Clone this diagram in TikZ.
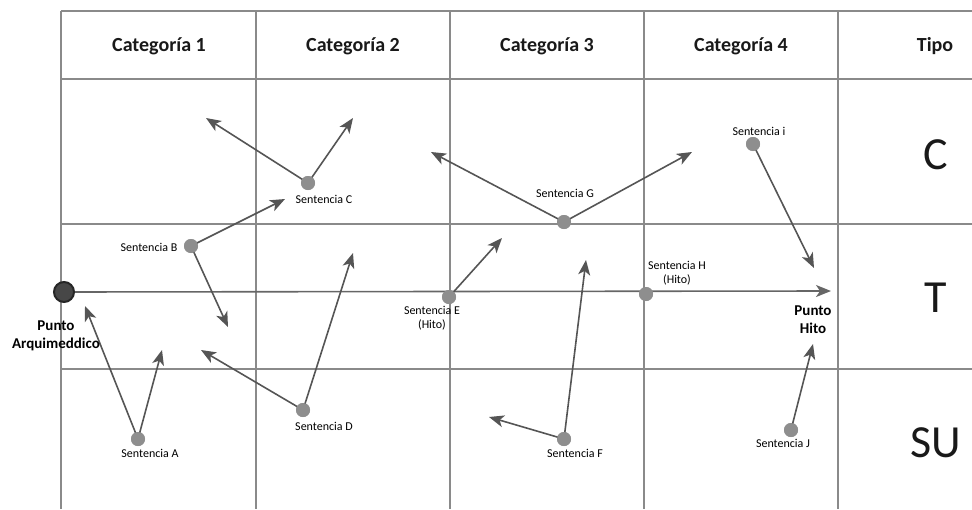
\documentclass[tikz,border=0pt]{standalone}
\usepackage{fontspec}
\setmainfont{Carlito}
\usetikzlibrary{arrows.meta}
\definecolor{gridc}{HTML}{8A8A8A}
\definecolor{arrc}{HTML}{555555}
\definecolor{dotc}{HTML}{8E8E8E}
\tikzset{
  gridline/.style={draw=gridc, line width=1.2pt},
  dotn/.style={circle, fill=dotc, inner sep=0pt, minimum size=14pt},
  arr/.style={draw=arrc, line width=1.6pt, -{Stealth[length=15pt,width=12pt,inset=4pt]}},
  lbl/.style={font=\fontsize{12}{14}\selectfont, text=black, align=center, inner sep=0pt},
  hdr/.style={font=\fontsize{20}{22}\selectfont\bfseries, text=black!90, inner sep=0pt},
  big/.style={font=\fontsize{46}{50}\selectfont, text=black!90, inner sep=0pt},
  bold/.style={font=\fontsize{15}{18}\selectfont\bfseries, text=black, align=center, inner sep=0pt}
}
\begin{document}
\begin{tikzpicture}[x=1pt,y=-1pt]
\useasboundingbox (0,0) rectangle (972,509);
% grid
\draw[gridline] (61,11) -- (972,11);
\draw[gridline] (61,79) -- (972,79);
\draw[gridline] (61,224) -- (972,224);
\draw[gridline] (61,369) -- (972,369);
\foreach \x in {61,256,450,644,838} \draw[gridline] (\x,11) -- (\x,509);
% headers
\node[hdr] (h1) at (159,46) {Categoría 1};
\node[hdr] (h2) at (353,46) {Categoría 2};
\node[hdr] (h3) at (547,46) {Categoría 3};
\node[hdr] (h4) at (741,46) {Categoría 4};
\node[hdr] (h5) at (935,46) {Tipo};
\node[big] (tc) at (936,155) {C};
\node[big] (tt) at (936,298) {T};
\node[big] (ts) at (936,443) {SU};
% main axis
\coordinate (hito) at (831,291);
\node[circle, fill=black!72, draw=black!85, line width=2pt, inner sep=0pt, minimum size=20pt] (pa) at (64,292) {};
\draw[arr, draw=black!60] (pa) -- (hito);
% dots
\node[dotn] (A) at (138,439) {};
\node[dotn] (B) at (191,246) {};
\node[dotn] (C) at (308,183) {};
\node[dotn] (D) at (303,410) {};
\node[dotn] (E) at (449,297) {};
\node[dotn] (F) at (564,439) {};
\node[dotn] (G) at (564,222) {};
\node[dotn] (H) at (646,294) {};
\node[dotn] (I) at (753,144) {};
\node[dotn] (J) at (791,430) {};
% arrow ends
\coordinate (a1) at (85,306);
\coordinate (a2) at (162,350);
\coordinate (b1) at (285,199);
\coordinate (b2) at (228,327);
\coordinate (c1) at (206,118);
\coordinate (c2) at (353,118);
\coordinate (d1) at (353,253);
\coordinate (d2) at (201,350);
\coordinate (e1) at (502,238);
\coordinate (g1) at (431,152);
\coordinate (g2) at (692,152);
\coordinate (f1) at (586,260);
\coordinate (f2) at (489,417);
\coordinate (i1) at (814,268);
\coordinate (j1) at (813,344);
% arrows
\draw[arr] (A.center) -- (a1);
\draw[arr] (A.center) -- (a2);
\draw[arr] (B.center) -- (b1);
\draw[arr] (B.center) -- (b2);
\draw[arr] (C.center) -- (c1);
\draw[arr] (C.center) -- (c2);
\draw[arr] (D.center) -- (d1);
\draw[arr] (D.center) -- (d2);
\draw[arr] (E.center) -- (e1);
\draw[arr] (G.center) -- (g1);
\draw[arr] (G.center) -- (g2);
\draw[arr] (F.center) -- (f1);
\draw[arr] (F.center) -- (f2);
\draw[arr] (I.center) -- (i1);
\draw[arr] (J.center) -- (j1);
% redraw dots on top
\foreach \n in {A,B,C,D,E,F,G,H,I,J} \fill[dotc] (\n) circle (7pt);
% labels
\node[lbl] (lA) at (150,453) {Sentencia A};
\node[lbl] (lB) at (149,247) {Sentencia B};
\node[lbl] (lC) at (324,199) {Sentencia C};
\node[lbl] (lD) at (324,426) {Sentencia D};
\node[lbl] (lE) at (432,318) {Sentencia E\\(Hito)};
\node[lbl] (lF) at (575,453) {Sentencia F};
\node[lbl] (lG) at (565,193) {Sentencia G};
\node[lbl] (lH) at (677,273) {Sentencia H\\(Hito)};
\node[lbl] (lI) at (759,131) {Sentencia i};
\node[lbl] (lJ) at (783,443) {Sentencia J};
\node[bold] (lPA) at (56,336) {Punto\\Arquimeddico};
\node[bold] (lPH) at (813,320) {Punto\\Hito};
\end{tikzpicture}
\end{document}
